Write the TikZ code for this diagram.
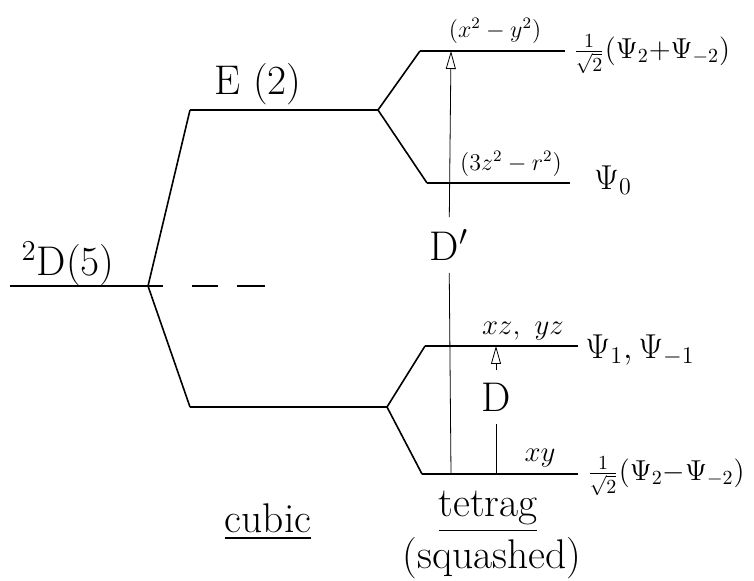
\documentclass[tikz,border=0pt]{standalone}
\usepackage{amsfonts,amsmath,amssymb}
\usepackage{xcolor}
\usetikzlibrary{arrows.meta}

\begin{document}
\begin{tikzpicture}[x=0.5pt,y=-0.5pt,>=stealth,
level/.style={line width=1pt},
split/.style={line width=0.8pt},
open/.style={-{Triangle[open,length=9pt,width=5pt]}}]
\useasboundingbox(0,0)rectangle(754,581);
% level end points
\coordinate(dL)at(10,286);
\coordinate(dB)at(148,286);
\coordinate(dE)at(265,286);
\coordinate(eL)at(190,110);\coordinate(eR)at(378,110);
\coordinate(tL)at(190,407);\coordinate(tR)at(387,407);
\coordinate(aL)at(420,51);\coordinate(aR)at(565,51);
\coordinate(zL)at(427,183);\coordinate(zR)at(570,183);
\coordinate(bL)at(425,346);\coordinate(bR)at(578,346);
\coordinate(cL)at(422,474);\coordinate(cR)at(578,474);
% levels and splittings
\draw[level](dL)--(dB);
\draw[level,dash pattern=on 7.5pt off 14.5pt on 13pt off 9.5pt on 14pt](dB)--(dE);
\draw[split](eL)--(dB)--(tL);
\draw[level](eL)--(eR)(tL)--(tR);
\draw[split](aL)--(eR)--(zL);
\draw[split](bL)--(tR)--(cL);
\draw[level](aL)--(aR)(zL)--(zR)(bL)--(bR)(cL)--(cR);
% labels
\node[font=\huge](d5)at(68,264){$^2$D(5)};
\node[font=\huge](e2)at(258,84){E (2)};
\node[font=\large](xy2)at(495,31){$(x^2-y^2)$};
\node[font=\large](z2)at(511,164){$(3z^2-r^2)$};
\node[font=\Large](xzyz)at(523,331){$xz,\ yz$};
\node[font=\Large](xyl)at(540,458){$xy$};
\node[font=\Large,anchor=west,inner sep=0pt](pa)at(573,54){$\tfrac{1}{\sqrt{2}}(\Psi_2{+}\Psi_{-2})$};
\node[font=\LARGE](p0)at(613,180){$\Psi_0$};
\node[font=\LARGE](p1)at(640,350){$\Psi_1,\Psi_{-1}$};
\node[font=\Large,anchor=west,inner sep=0pt](pc)at(587,476){$\tfrac{1}{\sqrt{2}}(\Psi_2{-}\Psi_{-2})$};
\node[font=\huge](cub)at(268,522){\underline{cubic}};
\node[font=\huge](tet)at(488,512){\underline{tetrag}};
\node[font=\huge](sq)at(492,558){(squashed)};
% splitting arrows
\coordinate(Dpb)at(451,474);\coordinate(Dpt)at(451,51);
\coordinate(Db)at(496,474);\coordinate(Dt)at(496,346);
\node[font=\huge,inner sep=6pt](Dp)at(449,245){D$'$};
\node[font=\huge,inner sep=6pt](D)at(496,397){D};
\draw(Dpb)--(Dp);
\draw[open](Dp)--(Dpt);
\draw(Db)--(D);
\draw[open](D)--(Dt);
\end{tikzpicture}
\end{document}
